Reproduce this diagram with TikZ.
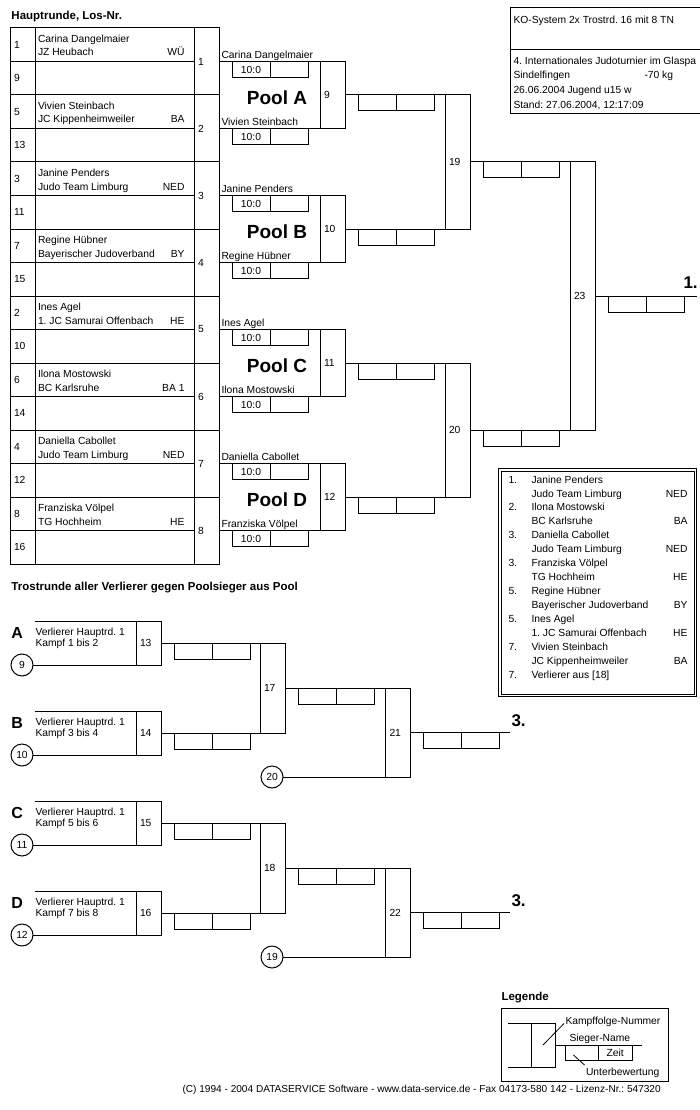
\documentclass[tikz,border=0pt]{standalone}
\usepackage{fontspec}
\setmainfont{Liberation Sans}
\frenchspacing
\usetikzlibrary{positioning}

\tikzset{
  cadre/.style={rectangle,draw,inner sep=0pt,outer sep=0pt,anchor=north west},
  numcase/.style={cadre,minimum width=25pt,text width=17pt,inner xsep=4pt,align=left},
  wertung/.style={cadre,minimum width=38pt,minimum height=16pt},
  texte/.style={anchor=base west,inner sep=0pt},
  titre/.style={texte,font=\bfseries\fontsize{11.5}{14}\selectfont},
  pool/.style={font=\bfseries\fontsize{19}{22}\selectfont},
  platz/.style={texte,font=\bfseries\fontsize{17}{20}\selectfont},
  kreis/.style={circle,draw,inner sep=0pt,outer sep=0pt,minimum size=22pt},
}

\begin{document}
\begin{tikzpicture}[x=1pt,y=-1pt,line width=1pt,font=\fontsize{10.3}{12}\selectfont]
\useasboundingbox (0,0) rectangle (700,1110);
\fill[white] (0,0) rectangle (700,1110);
\clip (0,0) rectangle (700,1110);

% titres
\node (HAUPT) [titre] at (11,20) {Hauptrunde, Los-Nr.};
\node (TROST) [titre] at (11,590.5) {Trostrunde aller Verlierer gegen Poolsieger aus Pool};

% en-tete
\node (KOPF1) [cadre,minimum width=195pt,minimum height=42pt] at (510,8) {};
\node (KOPF2) [cadre,minimum width=195pt,minimum height=64pt] at (510,50) {};
\node (SYSTEM) [texte] at (513,23.5) {KO-System 2x Trostrd. 16 mit 8 TN};
\node (TURNIER) [texte] at (513,64.5) {4. Internationales Judoturnier im Glaspa};
\node (ORT) [texte] at (513,79) {Sindelfingen};
\node (GEWICHT) [texte] at (644,79) {-70 kg};
\node (DATUM) [texte] at (513,94) {26.06.2004};
\node (KLASSE) [texte] at (567,94) {Jugend u15 w};
\node (STAND) [texte] at (513,108.5) {Stand: 27.06.2004, 12:17:09};

% tableau du tour principal
\foreach \los [count=\i] in {1,9,5,13,3,11,7,15,2,10,6,14,4,12,8,16}{
  \node (LOS\i) [numcase,minimum height=33.5pt] at (10,{28+33.5*(\i-1)}) {\los};
  \node (NOM\i) [cadre,minimum width=159pt,minimum height=33.5pt] at (35,{28+33.5*(\i-1)}) {};
}
\foreach \nom/\verein/\land [count=\k] in {Carina Dangelmaier/JZ Heubach/WÜ, Vivien Steinbach/JC Kippenheimweiler/BA, Janine Penders/Judo Team Limburg/NED, Regine Hübner/Bayerischer Judoverband/BY, Ines Agel/1. JC Samurai Offenbach/HE, Ilona Mostowski/BC Karlsruhe/BA 1, Daniella Cabollet/Judo Team Limburg/NED, Franziska Völpel/TG Hochheim/HE}{
  \node (KAMPF\k) [numcase,minimum height=67pt] at (194,{28+67*(\k-1)}) {\k};
  \node (NAME\k) [texte] at (37.5,{42.5+67*(\k-1)}) {\nom};
  \node (VEREIN\k) [texte] at (37.5,{56+67*(\k-1)}) {\verein};
  \node (LAND\k) [texte,anchor=base east] at (185,{56+67*(\k-1)}) {\land};
  % vainqueur vers le pool
  \node (SIEGER\k) [texte] at ([xshift=2pt,yshift=3pt]KAMPF\k.east) {\nom};
  \node (WAKAMPF\k) [wertung] at ([xshift=13pt]KAMPF\k.east) {10:0};
  \node (WBKAMPF\k) [wertung] at (WAKAMPF\k.north east) {};
}

% pools
\foreach \p/\n [count=\k] in {A/9,B/10,C/11,D/12}{
  \node (POOL\n) [numcase,minimum height=67pt] at (320,{61.5+134*(\k-1)}) {\n};
  \node (NOMPOOL\p) [pool] at (277,{98+134*(\k-1)}) {Pool \p};
}
\foreach \k/\n in {1/9,3/10,5/11,7/12}{
  \draw (KAMPF\k.east) -- (POOL\n.north west);
}
\foreach \k/\n in {2/9,4/10,6/11,8/12}{
  \draw (KAMPF\k.east) -- (POOL\n.south west);
}

% tour final
\node (R19) [numcase,minimum height=134pt] at (445,95) {19};
\node (R20) [numcase,minimum height=134pt] at (445,363) {20};
\node (R23) [numcase,minimum height=268pt] at (570,162) {23};
\coordinate (ERSTER) at (697,296);
\node (PLATZ1) [platz] at (683,288.5) {1.};
\draw (POOL9.east) -- (R19.north west);
\draw (POOL10.east) -- (R19.south west);
\draw (POOL11.east) -- (R20.north west);
\draw (POOL12.east) -- (R20.south west);
\draw (R19.east) -- (R23.north west);
\draw (R20.east) -- (R23.south west);
\draw (R23.east) -- (ERSTER);

% classement
\node (RANG) [cadre,double,double distance=1.5pt,minimum width=195.5pt,minimum height=225.5pt] at (499.75,469.75) {};
\foreach \pl/\nom/\verein/\land [count=\k] in {1./Janine Penders/Judo Team Limburg/NED, 2./Ilona Mostowski/BC Karlsruhe/BA, 3./Daniella Cabollet/Judo Team Limburg/NED, 3./Franziska Völpel/TG Hochheim/HE, 5./Regine Hübner/Bayerischer Judoverband/BY, 5./Ines Agel/1. JC Samurai Offenbach/HE, 7./Vivien Steinbach/JC Kippenheimweiler/BA}{
  \node (RPL\k) [texte] at (508,{483+27.94*(\k-1)}) {\pl};
  \node (RNAME\k) [texte] at (531,{483+27.94*(\k-1)}) {\nom};
  \node (RVEREIN\k) [texte] at (531,{497+27.94*(\k-1)}) {\verein};
  \node (RLAND\k) [texte,anchor=base east] at (688,{497+27.94*(\k-1)}) {\land};
}
\node (RPL8) [texte] at (508,678.5) {7.};
\node (RNAME8) [texte] at (531,678.5) {Verlierer aus [18]};

% tour de consolation
\foreach \b/\c/\n/\v [count=\k] in {A/9/13/1 bis 2,B/10/14/3 bis 4,C/11/15/5 bis 6,D/12/16/7 bis 8}{
  \node (T\n) [numcase,minimum height=44pt] at (136,{621+90*(\k-1)}) {\n};
  \node (KREIS\c) [kreis] at (22,{665+90*(\k-1)}) {\c};
  \coordinate (LINKS\b) at (35,{621+90*(\k-1)});
  \draw (LINKS\b) -- (T\n.north west);
  \draw (KREIS\c) -- (T\n.south west);
  \node (BUCHST\b) [texte,font=\bfseries\fontsize{16}{18}\selectfont] at (11,{638+90*(\k-1)}) {\b};
  \node (VERL\b) [texte] at (35,{635+90*(\k-1)}) {Verlierer Hauptrd. 1};
  \node (KTXT\b) [texte] at (35,{646+90*(\k-1)}) {Kampf \v};
}
\node (T17) [numcase,minimum height=90pt] at (260,643) {17};
\node (T18) [numcase,minimum height=90pt] at (260,823) {18};
\node (T21) [numcase,minimum height=89pt] at (385.5,688) {21};
\node (T22) [numcase,minimum height=89pt] at (385.5,868) {22};
\node (KREIS20) [kreis] at (272,777) {20};
\node (KREIS19) [kreis] at (272,957) {19};
\coordinate (DRITTER1) at (510,732.5);
\coordinate (DRITTER2) at (510,912.5);
\node (PLATZ3A) [platz] at (511,726) {3.};
\node (PLATZ3B) [platz] at (511,906.5) {3.};
\draw (T13.east) -- (T17.north west);
\draw (T14.east) -- (T17.south west);
\draw (T15.east) -- (T18.north west);
\draw (T16.east) -- (T18.south west);
\draw (T17.east) -- (T21.north west);
\draw (KREIS20) -- (T21.south west);
\draw (T18.east) -- (T22.north west);
\draw (KREIS19) -- (T22.south west);
\draw (T21.east) -- (DRITTER1);
\draw (T22.east) -- (DRITTER2);

% cases de score
\foreach \q in {POOL9,POOL10,POOL11,POOL12,R19,R20,R23,T13,T14,T15,T16,T17,T18,T21,T22}{
  \node (WA\q) [wertung] at ([xshift=13pt]\q.east) {};
  \node (WB\q) [wertung] at (WA\q.north east) {};
}

% legende
\node (LEGENDE) [titre] at (501,1000.5) {Legende};
\node (LEGRAHMEN) [cadre,minimum width=167pt,minimum height=73.5pt] at (501,1008) {};
\node (LEGKAMPF) [cadre,minimum width=24pt,minimum height=44pt] at (531,1023) {};
\coordinate (LEGOBEN) at (508,1023);
\coordinate (LEGUNTEN) at (508,1067);
\coordinate (LEGENDE1) at (642,1045);
\draw (LEGOBEN) -- (LEGKAMPF.north west);
\draw (LEGUNTEN) -- (LEGKAMPF.south west);
\draw (LEGKAMPF.east) -- (LEGENDE1);
\node (LEGWA) [wertung,minimum width=33.5pt,minimum height=15pt] at (565,1045) {};
\node (LEGWB) [wertung,minimum width=33.5pt,minimum height=15pt] at (LEGWA.north east) {Zeit};
\node (LEGNR) [texte] at (565,1024) {Kampffolge-Nummer};
\node (LEGSIEGER) [texte] at (569,1041.5) {Sieger-Name};
\node (LEGUNTER) [texte] at (585.5,1075) {Unterbewertung};
\coordinate (ZEIGER1) at (543,1045);
\coordinate (ZEIGER2) at (564,1023.5);
\coordinate (ZEIGER3) at (573.5,1055);
\coordinate (ZEIGER4) at (584.5,1065);
\draw[line width=0.8pt] (ZEIGER1) -- (ZEIGER2);
\draw[line width=0.8pt] (ZEIGER3) -- (ZEIGER4);

% pied de page
\node (FUSS) [texte,font=\fontsize{10.1}{12}\selectfont] at (182,1092) {(C) 1994 - 2004 DATASERVICE Software - www.data-service.de - Fax 04173-580 142 - Lizenz-Nr.: 547320};
\end{tikzpicture}
\end{document}
